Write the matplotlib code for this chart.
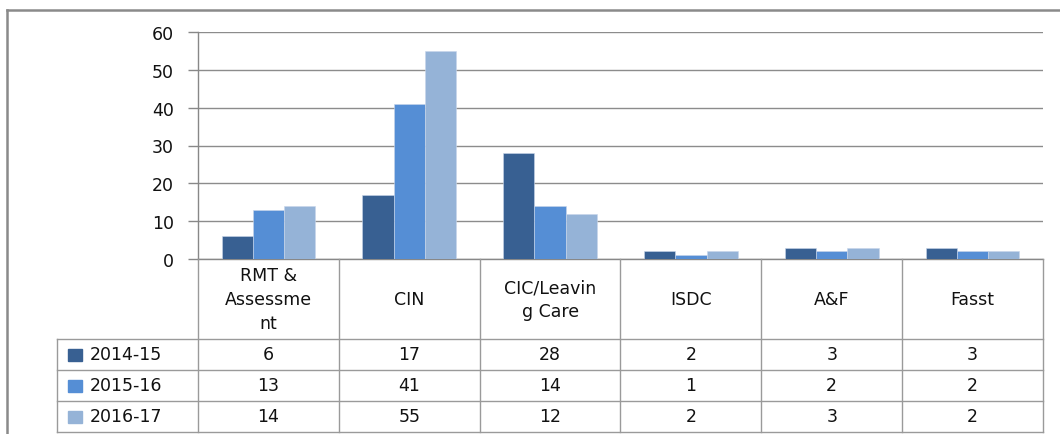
import matplotlib
matplotlib.use("Agg")
import matplotlib.pyplot as plt
from matplotlib.patches import Rectangle
from matplotlib.lines import Line2D
from matplotlib.transforms import blended_transform_factory
import numpy as np

categories = ["RMT &\nAssessme\nnt", "CIN", "CIC/Leavin\ng Care", "ISDC", "A&F", "Fasst"]
series_names = ["2014-15", "2015-16", "2016-17"]
values_2014_15 = [6, 17, 28, 2, 3, 3]
values_2015_16 = [13, 41, 14, 1, 2, 2]
values_2016_17 = [14, 55, 12, 2, 3, 2]
yticks = [0, 10, 20, 30, 40, 50, 60]

series_values = [values_2014_15, values_2015_16, values_2016_17]
colors = ["#386092", "#558ED5", "#95B3D7"]

W, H = 1060, 435
plt.rcParams["font.family"] = ["DejaVu Sans"]
fig = plt.figure(figsize=(W / 100, H / 100), dpi=100)
FS = 12.5


def fx(px):
    return px / W


def fy(py):
    return (H - py) / H


# plot area in pixel terms
left, right, top, bottom = 198, 1043, 33, 260
ax = fig.add_axes([fx(left), fy(bottom), fx(right) - fx(left), fy(top) - fy(bottom)])

n = len(categories)
x = np.arange(n)
bw = 0.222
for i, (vals, c) in enumerate(zip(series_values, colors)):
    ax.bar(x + (i - 1) * bw, vals, width=bw, color=c, edgecolor="#c8d6ea",
           linewidth=0.4, zorder=3)

ax.set_xlim(-0.5, n - 0.5)
ax.set_ylim(0, 60)
ax.set_yticks(yticks)
ax.set_xticks([])
ax.tick_params(axis="y", length=7.2, width=1, color="#888888", labelsize=FS,
               labelcolor="#111111", pad=10)
ax.grid(axis="y", color="#8c8c8c", linewidth=1, zorder=0)
for s in ["top", "right"]:
    ax.spines[s].set_visible(False)
for s in ["left", "bottom"]:
    ax.spines[s].set_color("#888888")
    ax.spines[s].set_linewidth(1)
ax.set_facecolor("none")

# data table under the plot
tr = blended_transform_factory(ax.transData, fig.transFigure)
line_c = "#9a9a9a"
header_bot = 340
row_h = 31
rows_top = [header_bot + k * row_h for k in range(len(series_names))]
table_bot = header_bot + row_h * len(series_names)
label_left = 57

# vertical column borders
for k in range(n + 1):
    fig.add_artist(Line2D([k - 0.5, k - 0.5], [fy(bottom), fy(table_bot)],
                          transform=tr, color=line_c, lw=1))
# horizontal row borders across the table
for py in [header_bot] + [r + row_h for r in rows_top]:
    fig.add_artist(Line2D([fx(label_left), fx(right)], [fy(py), fy(py)],
                          transform=fig.transFigure, color=line_c, lw=1))
fig.add_artist(Line2D([fx(label_left), fx(label_left)], [fy(header_bot), fy(table_bot)],
                      transform=fig.transFigure, color=line_c, lw=1))

# header cells
for k, cat in enumerate(categories):
    fig.text(k, fy((bottom + header_bot) / 2), cat, transform=tr, ha="center",
             va="center", fontsize=FS, color="#111111", linespacing=1.4)

# value rows with legend keys
for r, (name, vals, c) in enumerate(zip(series_names, series_values, colors)):
    yc = fy(rows_top[r] + row_h / 2)
    fig.add_artist(Rectangle((fx(68), yc - 6 / H), 14 / W, 12 / H,
                             transform=fig.transFigure, color=c))
    fig.text(fx(90), yc, name, ha="left", va="center", fontsize=FS, color="#111111")
    for k, v in enumerate(vals):
        fig.text(k, yc, str(v), transform=tr, ha="center", va="center",
                 fontsize=FS, color="#111111")

# outer chart frame
fig.add_artist(Line2D([fx(7), fx(W)], [fy(11), fy(11)], transform=fig.transFigure,
                      color="#8a8a8a", lw=1.8))
fig.add_artist(Line2D([fx(7), fx(7)], [fy(11), fy(H)], transform=fig.transFigure,
                      color="#8a8a8a", lw=1.8))

fig.savefig("out.png", dpi=100)
